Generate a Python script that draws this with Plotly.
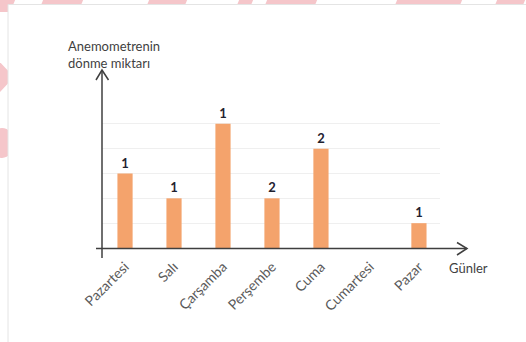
import plotly.graph_objects as go

# ---- data ----
days = ["Pazartesi", "Salı", "Çarşamba", "Perşembe", "Cuma", "Cumartesi", "Pazar"]
values = [3, 2, 5, 2, 4, 0, 1]
bar_labels = ["1", "1", "1", "2", "2", "", "1"]
x_title = "Günler"
y_title = "Anemometrenin<br>dönme miktarı"

W, H = 526, 342
L, R, T, B = 102, 440, 99, 248   # plot area pixel box


def px(x):
    return (x - L) / (R - L)


def py(y):
    return (B - y) / (B - T)


FONT = "Lato, 'Open Sans', sans-serif"
AX = "#3f3f3f"

fig = go.Figure()
fig.add_trace(go.Bar(
    x=list(range(len(days))), y=values,
    text=bar_labels, textposition="outside", cliponaxis=False,
    textfont=dict(family=FONT, size=13, color="#1f2230", weight="bold"),
    marker=dict(color="#F4A36C", line=dict(width=0)),
    width=0.31, hoverinfo="skip",
))

shapes = []
pink = "#f5c6ca"
# decorative pink strips behind the card (top strip and left strip)
for x0, x1 in [(0, 16), (44, 84), (150, 188), (240, 254), (268, 318), (398, 463), (498, 526)]:
    shapes.append(dict(type="path", xref="paper", yref="paper", layer="below",
                       path=f"M {px(x0)} {py(-2)} L {px(x1)} {py(-2)} L {px(x1 - 6)} {py(12)} L {px(x0 - 6)} {py(12)} Z",
                       fillcolor=pink, line=dict(width=0)))
shapes.append(dict(type="path", xref="paper", yref="paper", layer="below",
                   path=f"M {px(-2)} {py(60)} L {px(14)} {py(77)} L {px(-2)} {py(94)} Z",
                   fillcolor=pink, line=dict(width=0)))
shapes.append(dict(type="circle", xref="paper", yref="paper", layer="below",
                   x0=px(-10), x1=px(14), y0=py(128), y1=py(158),
                   fillcolor=pink, line=dict(width=0)))
# white card with faint border
shapes.append(dict(type="rect", xref="paper", yref="paper", layer="below",
                   x0=px(8), x1=px(540), y0=py(4.5), y1=py(350),
                   fillcolor="white", line=dict(color="#e4e4e4", width=1)))

# axes lines with open arrowheads
shapes.append(dict(type="line", xref="paper", yref="paper",
                   x0=px(102), x1=px(102), y0=py(258), y1=py(70),
                   line=dict(color=AX, width=1.5)))
shapes.append(dict(type="path", xref="paper", yref="paper",
                   path=f"M {px(96)} {py(80)} L {px(102)} {py(70)} L {px(108.5)} {py(80)}",
                   line=dict(color=AX, width=1.5)))
shapes.append(dict(type="line", xref="paper", yref="paper",
                   x0=px(96), x1=px(467), y0=py(248.5), y1=py(248.5),
                   line=dict(color=AX, width=1.5)))
shapes.append(dict(type="path", xref="paper", yref="paper",
                   path=f"M {px(457)} {py(242.5)} L {px(467)} {py(248.5)} L {px(457)} {py(255)}",
                   line=dict(color=AX, width=1.5)))

fig.update_layout(
    width=W, height=H,
    margin=dict(l=L, r=W - R, t=T, b=H - B),
    paper_bgcolor="white", plot_bgcolor="rgba(0,0,0,0)",
    showlegend=False,
    font=dict(family=FONT, size=12, color=AX),
    shapes=shapes,
    xaxis=dict(
        range=[-0.47, 6.43], tickmode="array",
        tickvals=list(range(len(days))), ticktext=days,
        tickangle=-45, showgrid=False, zeroline=False, showline=False,
        ticks="", ticklabelstandoff=7,
        tickfont=dict(family=FONT, size=14, color="#5a5a5a"),
        fixedrange=True,
    ),
    yaxis=dict(
        range=[0, 6], dtick=1, showticklabels=False, showgrid=True,
        gridcolor="#efefef", gridwidth=1, zeroline=False, showline=False,
        ticks="", fixedrange=True,
    ),
    annotations=[
        dict(text=y_title, xref="paper", yref="paper", x=px(66), y=py(54),
             xanchor="left", yanchor="middle", align="left", showarrow=False,
             font=dict(family=FONT, size=13, color=AX)),
        dict(text=x_title, xref="paper", yref="paper", x=px(468), y=py(268),
             xanchor="center", yanchor="middle", showarrow=False,
             font=dict(family=FONT, size=13, color=AX)),
    ],
)

fig.write_html("out.html", config={"displayModeBar": False})

# remove the browser's default body margin so the figure sits at (0, 0)
with open("out.html", encoding="utf-8") as f:
    html = f.read()
html = html.replace("<body>", '<body style="margin:0;padding:0;overflow:hidden">', 1)
with open("out.html", "w", encoding="utf-8") as f:
    f.write(html)
